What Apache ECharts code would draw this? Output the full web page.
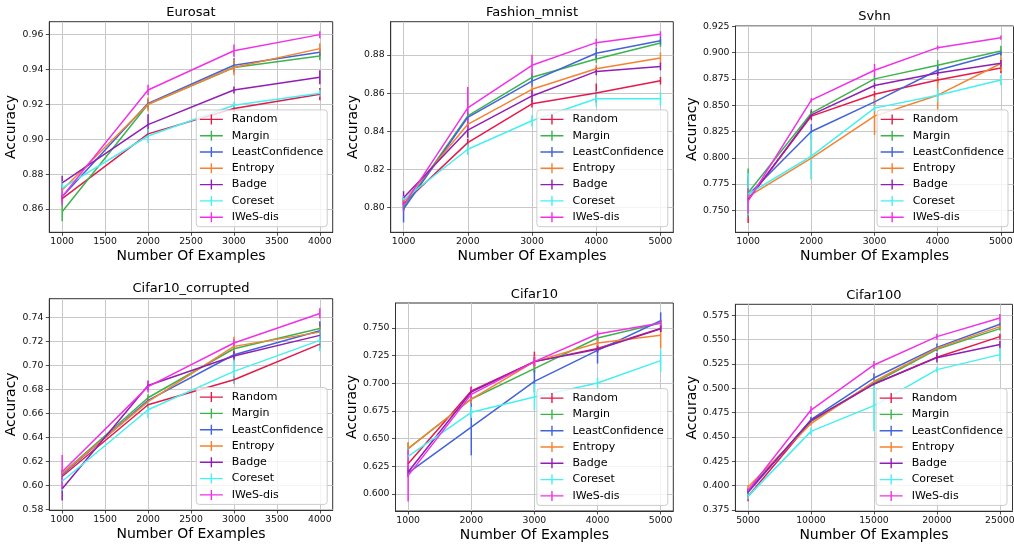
<!DOCTYPE html>
<html>
<head>
<meta charset="utf-8">
<script src="https://cdn.jsdelivr.net/npm/echarts@6/dist/echarts.min.js"></script>
<style>
  html, body { margin: 0; padding: 0; background: #fff; }
  #main { width: 1014px; height: 544px; }
</style>
</head>
<body>
<div id="main"></div>
<script>
const methods = ['Random', 'Margin', 'LeastConfidence', 'Entropy', 'Badge', 'Coreset', 'IWeS-dis'];
const colors = ['#e6194b', '#3cb44b', '#4363d8', '#f58231', '#911eb4', '#46f0f0', '#f032e6'];

// Eurosat
const eurosatX = [1000, 2000, 3000, 4000];
const eurosatMean = [
  [0.8660, 0.9030, 0.9175, 0.9257],
  [0.8585, 0.9200, 0.9410, 0.9476],
  [0.8670, 0.9205, 0.9423, 0.9497],
  [0.8709, 0.9200, 0.9410, 0.9518],
  [0.8750, 0.9083, 0.9281, 0.9354],
  [0.8720, 0.9018, 0.9194, 0.9262],
  [0.8671, 0.9281, 0.9506, 0.9598]
];
const eurosatErr = [
  [0.002, 0.002, 0.002, 0.0035],
  [0.0055, 0.003, 0.002, 0.0025],
  [0.002, 0.002, 0.004, 0.002],
  [0.002, 0.004, 0.0045, 0.003],
  [0.004, 0.006, 0.002, 0.004],
  [0.004, 0.004, 0.002, 0.002],
  [0.005, 0.003, 0.0035, 0.002]
];
const eurosatXTicks = [1000, 1500, 2000, 2500, 3000, 3500, 4000];
const eurosatYTicks = [0.86, 0.88, 0.90, 0.92, 0.94, 0.96];

// Fashion_mnist
const fashionX = [1000, 2000, 3000, 4000, 5000];
const fashionMean = [
  [0.8020, 0.8340, 0.8544, 0.8600, 0.8665],
  [0.8000, 0.8480, 0.8683, 0.8779, 0.8863],
  [0.7991, 0.8473, 0.8663, 0.8809, 0.8875],
  [0.8030, 0.8436, 0.8620, 0.8728, 0.8784],
  [0.8050, 0.8406, 0.8585, 0.8714, 0.8740],
  [0.8040, 0.8305, 0.8455, 0.8570, 0.8570],
  [0.8010, 0.8522, 0.8746, 0.8865, 0.8909]
];
const fashionErr = [
  [0.002, 0.002, 0.002, 0.005, 0.002],
  [0.002, 0.002, 0.002, 0.002, 0.002],
  [0.007, 0.002, 0.003, 0.003, 0.002],
  [0.002, 0.002, 0.002, 0.002, 0.003],
  [0.0035, 0.004, 0.003, 0.002, 0.002],
  [0.002, 0.003, 0.003, 0.004, 0.0035],
  [0.003, 0.011, 0.0055, 0.002, 0.0016]
];
const fashionXTicks = [1000, 2000, 3000, 4000, 5000];
const fashionYTicks = [0.80, 0.82, 0.84, 0.86, 0.88];

// Svhn
const svhnX = [1000, 2000, 3000, 4000, 5000];
const svhnMean = [
  [0.7600, 0.8396, 0.8604, 0.8740, 0.8854],
  [0.7668, 0.8424, 0.8750, 0.8880, 0.9016],
  [0.7645, 0.8250, 0.8532, 0.8832, 0.8997],
  [0.7630, 0.7997, 0.8396, 0.8595, 0.8896],
  [0.7600, 0.8408, 0.8687, 0.8807, 0.8899],
  [0.7653, 0.8016, 0.8472, 0.8595, 0.8740],
  [0.7590, 0.8548, 0.8832, 0.9047, 0.9142]
];
const svhnErr = [
  [0.022, 0.004, 0.003, 0.003, 0.005],
  [0.023, 0.004, 0.003, 0.005, 0.005],
  [0.003, 0.007, 0.003, 0.004, 0.002],
  [0.003, 0.020, 0.018, 0.016, 0.007],
  [0.004, 0.004, 0.003, 0.003, 0.003],
  [0.020, 0.022, 0.003, 0.006, 0.005],
  [0.012, 0.002, 0.006, 0.002, 0.002]
];
const svhnXTicks = [1000, 2000, 3000, 4000, 5000];
const svhnYTicks = [0.750, 0.775, 0.800, 0.825, 0.850, 0.875, 0.900, 0.925];

// Cifar10_corrupted
const corruptX = [1000, 2000, 3000, 4000];
const corruptMean = [
  [0.6075, 0.6674, 0.6882, 0.7180],
  [0.6100, 0.6732, 0.7141, 0.7311],
  [0.6090, 0.6710, 0.7091, 0.7291],
  [0.6100, 0.6700, 0.7161, 0.7280],
  [0.5973, 0.6835, 0.7080, 0.7253],
  [0.6035, 0.6632, 0.6952, 0.7211],
  [0.6115, 0.6825, 0.7189, 0.7436]
];
const corruptErr = [
  [0.003, 0.003, 0.003, 0.003],
  [0.003, 0.003, 0.003, 0.003],
  [0.003, 0.003, 0.003, 0.008],
  [0.003, 0.004, 0.008, 0.005],
  [0.0098, 0.004, 0.004, 0.003],
  [0.008, 0.007, 0.010, 0.009],
  [0.014, 0.005, 0.003, 0.0043]
];
const corruptXTicks = [1000, 1500, 2000, 2500, 3000, 3500, 4000];
const corruptYTicks = [0.58, 0.60, 0.62, 0.64, 0.66, 0.68, 0.70, 0.72, 0.74];

// Cifar10
const cifar10X = [1000, 2000, 3000, 4000, 5000];
const cifar10Mean = [
  [0.6274, 0.6931, 0.7196, 0.7316, 0.7495],
  [0.6410, 0.6858, 0.7133, 0.7410, 0.7545],
  [0.6190, 0.6605, 0.7018, 0.7298, 0.7566],
  [0.6410, 0.6858, 0.7196, 0.7364, 0.7434],
  [0.6199, 0.6922, 0.7196, 0.7307, 0.7494],
  [0.6340, 0.6738, 0.6877, 0.7003, 0.7205],
  [0.6166, 0.6900, 0.7196, 0.7446, 0.7545]
];
const cifar10Err = [
  [0.004, 0.004, 0.009, 0.003, 0.003],
  [0.005, 0.004, 0.004, 0.003, 0.003],
  [0.004, 0.0256, 0.010, 0.012, 0.0075],
  [0.006, 0.004, 0.005, 0.004, 0.012],
  [0.004, 0.004, 0.004, 0.003, 0.003],
  [0.008, 0.005, 0.012, 0.005, 0.010],
  [0.0235, 0.006, 0.004, 0.003, 0.003]
];
const cifar10XTicks = [1000, 2000, 3000, 4000, 5000];
const cifar10YTicks = [0.600, 0.625, 0.650, 0.675, 0.700, 0.725, 0.750];

// Cifar100
const cifar100X = [5000, 10000, 15000, 20000, 25000];
const cifar100Mean = [
  [0.3890, 0.4661, 0.5045, 0.5319, 0.5531],
  [0.3950, 0.4665, 0.5055, 0.5401, 0.5613],
  [0.3930, 0.4678, 0.5106, 0.5421, 0.5658],
  [0.3986, 0.4637, 0.5070, 0.5410, 0.5634],
  [0.3940, 0.4670, 0.5045, 0.5315, 0.5449],
  [0.3890, 0.4558, 0.4822, 0.5192, 0.5346],
  [0.3950, 0.4777, 0.5240, 0.5531, 0.5723]
];
const cifar100Err = [
  [0.005, 0.002, 0.002, 0.002, 0.003],
  [0.002, 0.002, 0.002, 0.002, 0.002],
  [0.002, 0.003, 0.005, 0.004, 0.002],
  [0.002, 0.002, 0.002, 0.002, 0.002],
  [0.002, 0.002, 0.002, 0.005, 0.004],
  [0.003, 0.004, 0.026, 0.003, 0.007],
  [0.002, 0.004, 0.004, 0.003, 0.004]
];
const cifar100XTicks = [5000, 10000, 15000, 20000, 25000];
const cifar100YTicks = [0.375, 0.400, 0.425, 0.450, 0.475, 0.500, 0.525, 0.550, 0.575];

const W = 1014, H = 544;
const FONT = 'DejaVu Sans';

// panel layout: box = [left, top, right, bottom] of the frame in px
const panels = [
  { title: 'Eurosat', x: eurosatX, mean: eurosatMean, err: eurosatErr, xTicks: eurosatXTicks, yTicks: eurosatYTicks, dec: 2,
    xMin: 850, xMax: 4150, yMin: 0.8467, yMax: 0.9672, box: [49.3, 21.7, 332.7, 232.3], titleY: 12.5, yGap: 30.6 },
  { title: 'Fashion_mnist', x: fashionX, mean: fashionMean, err: fashionErr, xTicks: fashionXTicks, yTicks: fashionYTicks, dec: 2,
    xMin: 800, xMax: 5200, yMin: 0.7869, yMax: 0.8975, box: [390.7, 21.7, 673.3, 232.3], titleY: 12.5, yGap: 30.4 },
  { title: 'Svhn', x: svhnX, mean: svhnMean, err: svhnErr, xTicks: svhnXTicks, yTicks: svhnYTicks, dec: 3,
    xMin: 800, xMax: 5200, yMin: 0.7291, yMax: 0.9253, box: [735.5, 26, 1013.5, 232.3], titleY: 16.5, yGap: 35.4 },
  { title: 'Cifar10_corrupted', x: corruptX, mean: corruptMean, err: corruptErr, xTicks: corruptXTicks, yTicks: corruptYTicks, dec: 2,
    xMin: 850, xMax: 4150, yMin: 0.5795, yMax: 0.7559, box: [49.3, 298.7, 332.7, 510], titleY: 288.5, yGap: 30.6 },
  { title: 'Cifar10', x: cifar10X, mean: cifar10Mean, err: cifar10Err, xTicks: cifar10XTicks, yTicks: cifar10YTicks, dec: 3,
    xMin: 800, xMax: 5200, yMin: 0.5846, yMax: 0.7726, box: [395.5, 303, 673.3, 511], titleY: 294.5, yGap: 36 },
  { title: 'Cifar100', x: cifar100X, mean: cifar100Mean, err: cifar100Err, xTicks: cifar100XTicks, yTicks: cifar100YTicks, dec: 3,
    xMin: 4000, xMax: 26000, yMin: 0.374, yMax: 0.5863, box: [735.4, 304.3, 1012.5, 511], titleY: 296, yGap: 36 }
];

// errorbar-like legend handle: horizontal line with a vertical bar
const legendIcon = 'path://M0,4.3H23V5.7H0Z M10.8,0H12.2V10H10.8Z';

const grids = [], xAxes = [], yAxes = [], series = [], legends = [], graphics = [];

panels.forEach((p, gi) => {
  const [l, t, r, b] = p.box;
  grids.push({
    left: l, top: t, width: r - l, height: b - t,
    show: true, borderColor: '#333', borderWidth: 1,
    containLabel: false, outerBoundsMode: 'none'
  });
  xAxes.push({
    type: 'value', gridIndex: gi, min: p.xMin, max: p.xMax,
    name: 'Number Of Examples', nameLocation: 'middle', nameGap: 17,
    nameTextStyle: { fontFamily: FONT, fontSize: 14, color: '#000' },
    axisLine: { show: true, lineStyle: { color: '#333', width: 1 } },
    axisTick: { show: true, length: 3.5, customValues: p.xTicks, lineStyle: { color: '#222', width: 0.8 } },
    axisLabel: { customValues: p.xTicks, margin: 5, fontFamily: FONT, fontSize: 9.3, color: '#111',
      formatter: v => String(v) },
    splitLine: { show: true, lineStyle: { color: '#c8c8c8', width: 1 } }
  });
  yAxes.push({
    type: 'value', gridIndex: gi, min: p.yMin, max: p.yMax,
    name: 'Accuracy', nameLocation: 'middle', nameGap: p.yGap, nameRotate: 90,
    nameTextStyle: { fontFamily: FONT, fontSize: 14, color: '#000' },
    axisLine: { show: true, lineStyle: { color: '#333', width: 1 } },
    axisTick: { show: true, length: 3.5, customValues: p.yTicks, lineStyle: { color: '#222', width: 0.8 } },
    axisLabel: { customValues: p.yTicks, margin: 6, fontFamily: FONT, fontSize: 9.3, color: '#111',
      formatter: v => v.toFixed(p.dec) },
    splitLine: { show: true, lineStyle: { color: '#c8c8c8', width: 1 } }
  });

  methods.forEach((name, m) => {
    const color = colors[m];
    series.push({
      type: 'line', name: name, xAxisIndex: gi, yAxisIndex: gi,
      data: p.x.map((x, i) => [x, p.mean[m][i]]),
      symbol: 'none', silent: true, animation: false,
      lineStyle: { color: color, width: 1.5 },
      itemStyle: { color: color },
      emphasis: { disabled: true }
    });
    series.push({
      type: 'custom', name: name, xAxisIndex: gi, yAxisIndex: gi,
      data: p.x.map((x, i) => [x, p.mean[m][i] - p.err[m][i], p.mean[m][i] + p.err[m][i]]),
      encode: { x: 0, y: [1, 2] },
      silent: true, animation: false,
      itemStyle: { color: color },
      renderItem: (params, api) => {
        const lo = api.coord([api.value(0), api.value(1)]);
        const hi = api.coord([api.value(0), api.value(2)]);
        return {
          type: 'line',
          shape: { x1: lo[0], y1: lo[1], x2: hi[0], y2: hi[1] },
          style: { stroke: color, lineWidth: 1.5 }
        };
      }
    });
  });

  legends.push({
    data: methods.map(n => ({ name: n })),
    icon: legendIcon, orient: 'vertical', selectedMode: false,
    right: W - (r - 5.5), bottom: H - (b - 5.6),
    itemWidth: 23, itemHeight: 10, itemGap: 5.3,
    padding: [4, 4, 4, 3.6],
    backgroundColor: 'rgba(255,255,255,0.8)', borderColor: '#cccccc', borderWidth: 1, borderRadius: 3,
    itemStyle: { borderWidth: 0 },
    textStyle: { fontFamily: FONT, fontSize: 11, color: '#000', padding: [0, 0, 0, 4] }
  });

  graphics.push({
    type: 'text', x: (l + r) / 2, y: p.titleY, silent: true,
    style: { text: p.title, font: '13px "' + FONT + '"', fill: '#000', align: 'center', verticalAlign: 'middle' }
  });
});

const chart = echarts.init(document.getElementById('main'), null, { renderer: 'canvas' });
chart.setOption({
  backgroundColor: '#fff',
  animation: false,
  tooltip: { show: false },
  grid: grids,
  xAxis: xAxes,
  yAxis: yAxes,
  legend: legends,
  series: series,
  graphic: graphics
});
</script>
</body>
</html>
